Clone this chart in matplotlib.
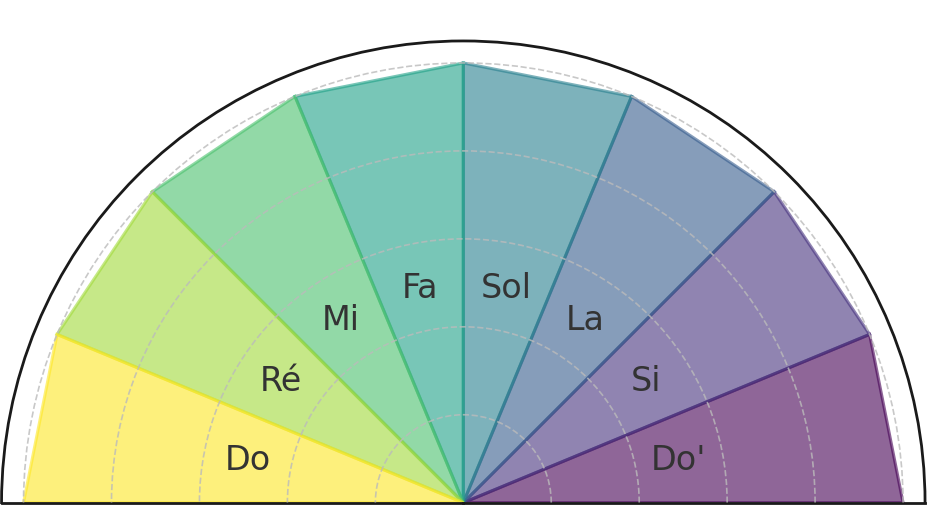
import numpy as np
import matplotlib
matplotlib.use("Agg")
import matplotlib.pyplot as plt

notes = ["Do", "Ré", "Mi", "Fa", "Sol", "La", "Si", "Do'"]
values = [1.0, 1.0, 1.0, 1.0, 1.0, 1.0, 1.0, 1.0]
grid_radii = [0.2, 0.4, 0.6, 0.8, 1.0]

fig = plt.figure(figsize=(9.29, 5.06), dpi=100)
# polar half-wedge is padded to a square bbox; place the square so the
# semicircle spans the width and its baseline sits just above the bottom
side = 923.5
x0 = 463.3 - side / 2
base = 2.3
ax = fig.add_axes([x0/929, (base - side/4)/506, side/929, side/506], projection="polar")
ax.set_thetamin(0)
ax.set_thetamax(180)
ax.set_ylim(0, 1.05)

n = len(notes)
step = np.pi / n
colors = plt.cm.viridis(np.linspace(1, 0, n))

for i in reversed(range(n)):
    v = values[i]
    t1 = np.pi - i * step
    t2 = np.pi - (i + 1) * step
    th = [0, t1, t2, 0]
    rr = [0, v, v, 0]
    ax.fill(th, rr, color=colors[i], alpha=0.6, lw=2.2, zorder=1)

for i, note in enumerate(notes):
    tm = np.pi - (i + 0.5) * step
    ax.text(tm, values[i] * 0.5, note, ha="center", va="center",
            fontsize=24, color="#333333", zorder=4)

ax.set_rgrids(grid_radii)
ax.set_thetagrids([])
ax.set_yticklabels([])
ax.set_xticklabels([])
ax.yaxis.grid(True, linestyle="--", color="#bbbbbb", lw=1.2, alpha=0.8, zorder=3)
ax.xaxis.grid(False)
ax.set_axisbelow(False)
for s in ax.spines.values():
    s.set_color("#1a1a1a")
    s.set_linewidth(2)

fig.savefig("out.png", dpi=100)
